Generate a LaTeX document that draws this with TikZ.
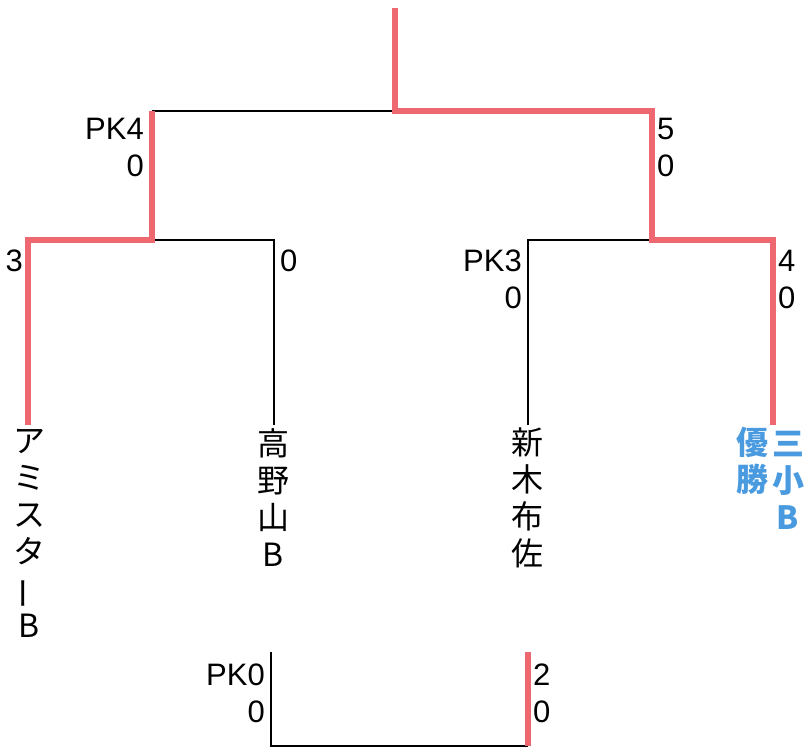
\documentclass[tikz,border=0pt]{standalone}
\usepackage{fontspec}
\usepackage{graphicx}
\setmainfont{Liberation Sans}
\newfontfamily\jpfont{Noto Sans CJK JP}
\usetikzlibrary{positioning}

\definecolor{winred}{RGB}{238,104,114}
\definecolor{winblue}{RGB}{74,154,224}

\begin{document}
\begin{tikzpicture}[x=1pt, y=-1pt,
  lose/.style={line width=1.7pt, black},
  win/.style={line width=6.5pt, winred},
  score/.style={font=\fontsize{31}{37}\selectfont, inner sep=0pt, align=right},
  team/.style={font=\jpfont\fontsize{32}{37}\selectfont, align=center, anchor=north, inner sep=0pt}]

\useasboundingbox (0,0) rectangle (805,749);

% bracket points
\path (395,8) coordinate (top)
  (395,111) coordinate (fin)
  (152,111) coordinate (finL) (652,111) coordinate (finR)
  (152,240) coordinate (semiL) (652,240) coordinate (semiR)
  (28,240) coordinate (ami) (274,240) coordinate (koya)
  (528,240) coordinate (arai) (773,240) coordinate (sansho)
  (28,425) coordinate (amiE) (274,425) coordinate (koyaE)
  (528,425) coordinate (araiE) (773,425) coordinate (sanshoE)
  (271,652) coordinate (thirdL) (528,652) coordinate (thirdR)
  (271,746) coordinate (thirdLB) (528,746) coordinate (thirdRB);

% losers
\draw[lose] (finL) -- (fin);
\draw[lose] (semiL) -- (koya) -- (koyaE);
\draw[lose] (semiR) -- (arai) -- (araiE);
\draw[lose] (thirdL) -- (thirdLB) -- (thirdRB);

% winners
\draw[win] (top) -- (fin) -- (finR) -- (semiR) -- (sansho) -- (sanshoE);
\draw[win] (finL) -- (semiL) -- (ami) -- (amiE);
\draw[win] (thirdR) -- (thirdRB);

% scores
\node[score, anchor=north east] (sfL) at (144,118) {PK4\\0};
\node[score, anchor=north west, align=left] (sfR) at (657,118) {5\\0};
\node[score, anchor=north east] (sAmi) at (23,250) {3};
\node[score, anchor=north west, align=left] (sKoya) at (280,250) {0};
\node[score, anchor=north east] (sArai) at (522,250) {PK3\\0};
\node[score, anchor=north west, align=left] (sSansho) at (778,250) {4\\0};
\node[score, anchor=north east] (sThL) at (265,664) {PK0\\0};
\node[score, anchor=north west, align=left] (sThR) at (533,664) {2\\0};

% teams
\node[team] (tAmi) at (29,429) {ア\\ミ\\ス\\タ\\\rotatebox[origin=c]{90}{ー}\\B};
\node[team] (tKoya) at (273,428) {高\\野\\山\\B};
\node[team] (tArai) at (527,428) {新\\木\\布\\佐};
\node[team, text=winblue, font=\jpfont\bfseries\fontsize{32}{37}\selectfont] (tSansho) at (788,431) {三\\小\\B};
\node[team, text=winblue, font=\jpfont\bfseries\fontsize{32}{37}\selectfont] (tWin) at (752,427) {優\\勝};

\end{tikzpicture}
\end{document}
